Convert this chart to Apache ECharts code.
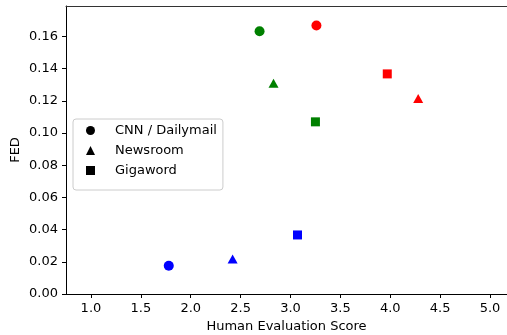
<!DOCTYPE html>
<html>
<head>
<meta charset="utf-8">
<script src="https://cdn.jsdelivr.net/npm/echarts@6/dist/echarts.min.js"></script>
<style>
html,body{margin:0;padding:0;background:#fff;}
#c{width:507px;height:335px;}
</style>
</head>
<body>
<div id="c"></div>
<script>
// Data
const datasets = ['CNN / Dailymail', 'Newsroom', 'Gigaword'];
const datasetSymbols = ['circle', 'triangle', 'rect'];
const systems = ['blue', 'green', 'red'];
const systemColors = ['#0000ff', '#008000', '#ff0000'];
// human evaluation score per [dataset][system]
const humanScores = [
  [1.78, 2.69, 3.26],
  [2.42, 2.83, 4.28],
  [3.07, 3.25, 3.97]
];
// FED per [dataset][system]
const fedScores = [
  [0.0176, 0.1633, 0.1669],
  [0.0218, 0.1310, 0.1215],
  [0.0367, 0.1070, 0.1368]
];
const xTicks = [1.0, 1.5, 2.0, 2.5, 3.0, 3.5, 4.0, 4.5, 5.0];
const yTicks = [0.00, 0.02, 0.04, 0.06, 0.08, 0.10, 0.12, 0.14, 0.16];

const font = 'DejaVu Sans';
const series = datasets.map((name, d) => ({
  name: name,
  type: 'scatter',
  symbol: datasetSymbols[d],
  symbolSize: d === 1 ? [10, 9] : (d === 2 ? 9 : 10),
  itemStyle: { opacity: 1 },
  emphasis: { disabled: true },
  data: humanScores[d].map((x, s) => ({
    value: [x, fedScores[d][s]],
    itemStyle: { color: systemColors[s], opacity: 1 }
  })),
  xAxisIndex: 0,
  yAxisIndex: 0,
  z: 3
}));

const chart = echarts.init(document.getElementById('c'), null, { renderer: 'canvas' });
chart.setOption({
  animation: false,
  backgroundColor: '#ffffff',
  textStyle: { fontFamily: font },
  grid: { left: 66, right: 0, top: 6, bottom: 41, containLabel: false, outerBoundsMode: 'none' },
  legend: {
    left: 73,
    top: 119,
    orient: 'vertical',
    data: datasets.map((n, d) => ({ name: n, icon: datasetSymbols[d], itemStyle: { color: '#000', opacity: 1 } })),
    itemWidth: 9,
    itemHeight: 9,
    itemGap: 5,
    padding: [4, 6, 12, 13],
    backgroundColor: 'rgba(255,255,255,0.8)',
    borderColor: '#cccccc',
    borderWidth: 1,
    borderRadius: 3,
    textStyle: { fontFamily: font, fontSize: 13, color: '#000', padding: [0, 0, 0, 15], lineHeight: 15 },
    z: 10
  },
  xAxis: [{
    type: 'value',
    min: 0.75,
    max: 5.17,
    name: 'Human Evaluation Score',
    nameLocation: 'middle',
    nameGap: 26,
    nameMoveOverlap: false,
    nameTextStyle: { fontFamily: font, fontSize: 13, color: '#000' },
    splitLine: { show: false },
    axisLine: { show: true, onZero: false, lineStyle: { color: '#000', width: 1 } },
    axisTick: { show: true, length: 4, customValues: xTicks, lineStyle: { color: '#000' } },
    axisLabel: { customValues: xTicks, margin: 8, fontFamily: font, fontSize: 13, color: '#000',
      formatter: v => v.toFixed(1) }
  }, {
    type: 'value',
    position: 'top',
    min: 0.75,
    max: 5.17,
    splitLine: { show: false },
    axisLine: { show: true, onZero: false, lineStyle: { color: '#333', width: 1 } },
    axisTick: { show: false },
    axisLabel: { show: false }
  }],
  yAxis: {
    type: 'value',
    min: 0,
    max: 0.179,
    name: 'FED',
    nameLocation: 'middle',
    nameGap: 44,
    nameMoveOverlap: false,
    nameTextStyle: { fontFamily: font, fontSize: 13, color: '#000' },
    splitLine: { show: false },
    axisLine: { show: true, onZero: false, lineStyle: { color: '#000', width: 1 } },
    axisTick: { show: true, length: 4, customValues: yTicks, lineStyle: { color: '#000' } },
    axisLabel: { customValues: yTicks, margin: 8, fontFamily: font, fontSize: 13, color: '#000',
      formatter: v => v.toFixed(2) }
  },
  series: series
});
</script>
</body>
</html>
